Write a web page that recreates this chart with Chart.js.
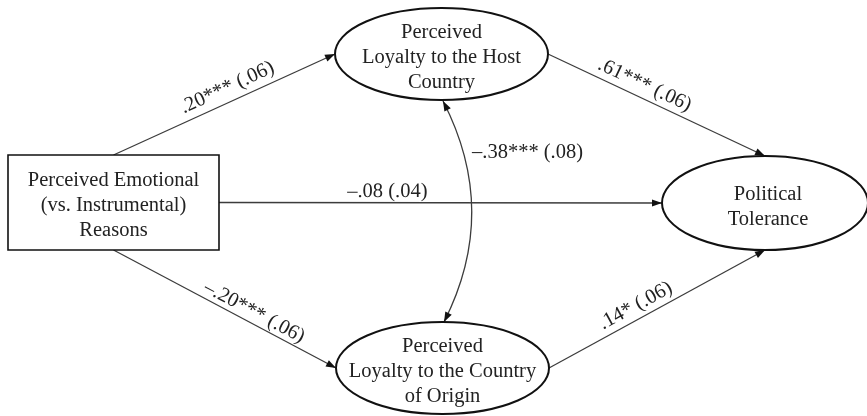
<!DOCTYPE html>
<html>
<head>
<meta charset="utf-8">
<script src="https://cdn.jsdelivr.net/npm/chart.js@4"></script>
<style>
  html, body { margin: 0; padding: 0; background: #fff; }
</style>
</head>
<body>
<canvas id="pathChart" width="867" height="416"></canvas>
<script>
"use strict"

// Nodes of the path model
const nodeLabels = [
    ['Perceived Emotional', '(vs. Instrumental)', 'Reasons'],
    ['Perceived', 'Loyalty to the Host', 'Country'],
    ['Perceived', 'Loyalty to the Country', 'of Origin'],
    ['Political', 'Tolerance']
];
const nodeKind = ['box', 'ellipse', 'ellipse', 'ellipse'];

// Directed paths: from -> to, coefficient and standard error
const pathFrom = [0, 1, 0, 0, 2];
const pathTo = [1, 3, 3, 2, 3];
const pathCoef = ['.20***', '.61***', '–.08', '–.20***', '.14*'];
const pathSE = ['(.06)', '(.06)', '(.04)', '(.06)', '(.06)'];

// Covariance between the two mediators
const covNodes = [1, 2];
const covLabel = '–.38*** (.08)';

// Layout (diagram units = scale units)
const layout = {
    cx: [113.5, 441.5, 442.5, 765],
    cy: [202.5, 54, 368, 203],
    w: [211, 213, 213, 206],
    h: [95, 92, 92, 94],
    fromSide: ['top', 'right', 'right', 'bottom', 'right'],
    toSide: ['left', 'top', 'left', 'left', 'bottom'],
    labelAt: [0.54, 0.42, 0.38, 0.61, 0.43],
    labelOff: [14, 13, 11, 11, 13]
};

const FONT = '20.5px "Liberation Serif", "Times New Roman", serif';

/**
 * Returns the point on a node's border for a given side, in scale units.
 */
function anchor(i, side) {
    const cx = layout.cx[i], cy = layout.cy[i];
    const hw = layout.w[i] / 2, hh = layout.h[i] / 2;
    if (side === 'top') return { x: cx, y: cy - hh };
    if (side === 'bottom') return { x: cx, y: cy + hh };
    if (side === 'left') return { x: cx - hw, y: cy };
    return { x: cx + hw, y: cy };
}

function arrowHead(ctx, tipX, tipY, fromX, fromY) {
    const a = Math.atan2(tipY - fromY, tipX - fromX);
    const len = 10, half = 3.6;
    ctx.save();
    ctx.translate(tipX, tipY);
    ctx.rotate(a);
    ctx.beginPath();
    ctx.moveTo(0, 0);
    ctx.lineTo(-len, -half);
    ctx.lineTo(-len, half);
    ctx.closePath();
    ctx.fillStyle = '#111';
    ctx.fill();
    ctx.restore();
}

const pathDatasets = pathFrom.map((f, k) => {
    const a = anchor(f, layout.fromSide[k]);
    const b = anchor(pathTo[k], layout.toSide[k]);
    return {
        label: pathCoef[k] + ' ' + pathSE[k],
        data: [a, b],
        showLine: true,
        borderColor: '#3c3c3c',
        borderWidth: 1.3,
        pointRadius: 0,
        fill: false
    };
});

const diagramPlugin = {
    id: 'diagram',
    afterDatasetsDraw(chart) {
        const ctx = chart.ctx;
        const sx = chart.scales.x, sy = chart.scales.y;
        const px = v => sx.getPixelForValue(v);
        const py = v => sy.getPixelForValue(v);
        ctx.save();

        // arrowheads and path labels
        pathFrom.forEach((f, k) => {
            const a = anchor(f, layout.fromSide[k]);
            const b = anchor(pathTo[k], layout.toSide[k]);
            const ax = px(a.x), ay = py(a.y), bx = px(b.x), by = py(b.y);
            arrowHead(ctx, bx, by, ax, ay);
            const t = layout.labelAt[k];
            const lx = ax + (bx - ax) * t, ly = ay + (by - ay) * t;
            ctx.save();
            ctx.translate(lx, ly);
            ctx.rotate(Math.atan2(by - ay, bx - ax));
            ctx.font = FONT;
            ctx.fillStyle = '#222';
            ctx.textAlign = 'center';
            ctx.textBaseline = 'middle';
            ctx.fillText(pathCoef[k] + ' ' + pathSE[k], 0, -layout.labelOff[k]);
            ctx.restore();
        });

        // covariance curve with two heads
        const c0 = anchor(covNodes[0], 'bottom'), c1 = anchor(covNodes[1], 'top');
        const x0 = px(c0.x + 1.5), y0 = py(c0.y + 1);
        const x1 = px(c1.x + 1.5), y1 = py(c1.y);
        const qx = px(500), qy = (y0 + y1) / 2;
        ctx.beginPath();
        ctx.moveTo(x0, y0);
        ctx.quadraticCurveTo(qx, qy, x1, y1);
        ctx.strokeStyle = '#3c3c3c';
        ctx.lineWidth = 1.3;
        ctx.stroke();
        arrowHead(ctx, x0, y0, qx, qy);
        arrowHead(ctx, x1, y1, qx, qy);
        ctx.font = FONT;
        ctx.fillStyle = '#222';
        ctx.textAlign = 'left';
        ctx.textBaseline = 'middle';
        ctx.fillText(covLabel, px(472), py(153));

        // nodes
        nodeLabels.forEach((lines, i) => {
            const cx = px(layout.cx[i]), cy = py(layout.cy[i]);
            const w = px(layout.w[i]) - px(0), h = py(layout.h[i]) - py(0);
            ctx.beginPath();
            if (nodeKind[i] === 'box') {
                ctx.rect(cx - w / 2, cy - h / 2, w, h);
                ctx.lineWidth = 1.6;
            } else {
                ctx.ellipse(cx, cy, w / 2, h / 2, 0, 0, Math.PI * 2);
                ctx.lineWidth = 2;
            }
            ctx.fillStyle = '#fff';
            ctx.fill();
            ctx.strokeStyle = '#111';
            ctx.stroke();
            ctx.font = FONT;
            ctx.fillStyle = '#222';
            ctx.textAlign = 'center';
            ctx.textBaseline = 'middle';
            const lh = 25;
            const dy = nodeKind[i] === 'box' ? 3 : 4;
            lines.forEach((txt, j) => {
                ctx.fillText(txt, cx + (i === 3 ? 3 : 0), cy + (j - (lines.length - 1) / 2) * lh + dy);
            });
        });
        ctx.restore();
    }
};

new Chart(document.getElementById('pathChart').getContext('2d'), {
    type: 'scatter',
    data: { datasets: pathDatasets },
    options: {
        responsive: false,
        animation: false,
        layout: { padding: 0 },
        plugins: {
            legend: { display: false },
            tooltip: { enabled: false }
        },
        scales: {
            x: { type: 'linear', min: 0, max: 867, display: false },
            y: { type: 'linear', min: 0, max: 416, reverse: true, display: false }
        }
    },
    plugins: [diagramPlugin]
});
</script>
</body>
</html>
